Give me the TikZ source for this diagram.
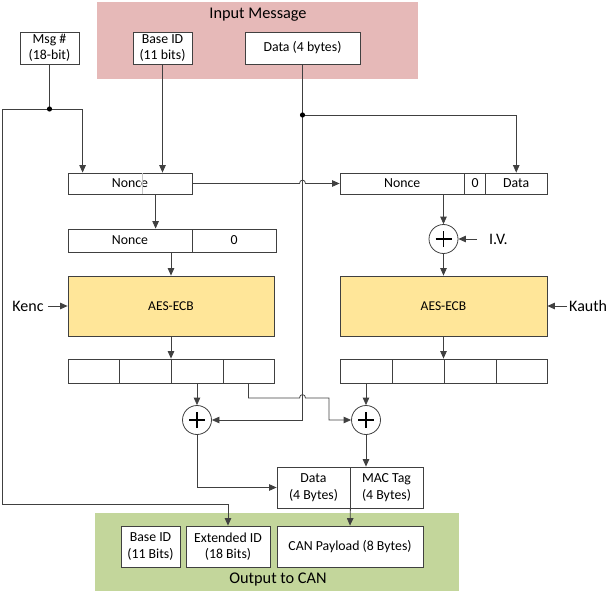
\documentclass[tikz,border=0pt]{standalone}
\usepackage{fontspec}
\setmainfont{Carlito}
\usetikzlibrary{arrows.meta}
\definecolor{ln}{HTML}{404040}
\definecolor{pinkc}{HTML}{E6B9B8}
\definecolor{greenc}{HTML}{C3D69B}
\definecolor{yellc}{HTML}{FFE699}
\begin{document}
\begin{tikzpicture}[x=1pt,y=-1pt,
  box/.style={draw=ln, line width=0.8pt, fill=white, rectangle, inner sep=0pt, align=center, font=\fontsize{13.8}{16.5}\selectfont},
  aes/.style={box, fill=yellc, font=\fontsize{13.5}{15}\selectfont},
  area/.style={rectangle, inner sep=0pt, draw=none},
  title/.style={inner sep=0pt, font=\fontsize{16.3}{19}\selectfont},
  lbl/.style={inner sep=0pt, font=\fontsize{16}{19}\selectfont},
  conn/.style={draw=ln, line width=0.8pt},
  arr/.style={conn, -{Triangle[length=7.5pt,width=6.5pt]}},
  xor/.style={circle, draw=ln, line width=0.8pt, fill=white, minimum size=29pt, inner sep=0pt,
    path picture={\draw[black, line width=1.3pt] ([xshift=-8pt]path picture bounding box.center) -- ([xshift=8pt]path picture bounding box.center)
      ([yshift=-8pt]path picture bounding box.center) -- ([yshift=8pt]path picture bounding box.center);}},
  dot/.style={fill=black}
]
\useasboundingbox (0,0) rectangle (616,599);

% background areas
\node[area, fill=pinkc, minimum width=321pt, minimum height=77pt] (inmsg) at (257.5,40.5) {};
\node[title] (intitle) at (258,15) {Input Message};
\node[area, fill=greenc, minimum width=364pt, minimum height=78pt] (outcan) at (277,552) {};
\node[title] (outtitle) at (278,580) {Output to CAN};

% input boxes
\node[box, minimum width=59pt, minimum height=32pt] (msg) at (49.5,48) {Msg \#\\(18-bit)};
\node[box, minimum width=59pt, minimum height=32pt] (bid) at (162.5,48) {Base ID\\(11 bits)};
\node[box, minimum width=115pt, minimum height=32pt] (din) at (302.5,48) {Data (4 bytes)};

% nonce rows
\node[box, minimum width=124pt, minimum height=21pt] (nL) at (130,183.5) {Nonce};
\draw[gray!45, line width=0.6pt] (142,173.5) -- (142,193.5);
\node[box, minimum width=124.5pt, minimum height=21pt] (nR1) at (402.25,183.5) {Nonce};
\node[box, minimum width=21pt, minimum height=21pt] (nR0) at (475,183.5) {0};
\node[box, minimum width=61.5pt, minimum height=21pt] (nRd) at (516.25,183.5) {Data};
\node[box, minimum width=124pt, minimum height=23pt] (nz1) at (130,240.5) {Nonce};
\node[box, minimum width=84pt, minimum height=23pt] (nz2) at (234,240.5) {0};

% AES blocks
\node[aes, minimum width=206pt, minimum height=60pt] (aesL) at (171,306) {AES-ECB};
\node[aes, minimum width=207pt, minimum height=60pt] (aesR) at (443.5,306) {AES-ECB};
\node[lbl] (kenc) at (28,306) {Kenc};
\node[lbl, anchor=west] (kauth) at (569,306) {Kauth};
\node[xor] (xorIV) at (443.5,239) {};
\node[lbl, anchor=west] (iv) at (489,239) {I.V.};

% output rows
\node[box, minimum width=51pt, minimum height=24pt] (rL1) at (93.5,371) {};
\node[box, minimum width=52pt, minimum height=24pt] (rL2) at (145,371) {};
\node[box, minimum width=52pt, minimum height=24pt] (rL3) at (197,371) {};
\node[box, minimum width=51pt, minimum height=24pt] (rL4) at (248.5,371) {};
\node[box, minimum width=52pt, minimum height=24pt] (rR1) at (366,371) {};
\node[box, minimum width=52pt, minimum height=24pt] (rR2) at (418,371) {};
\node[box, minimum width=52pt, minimum height=24pt] (rR3) at (470,371) {};
\node[box, minimum width=51pt, minimum height=24pt] (rR4) at (521.5,371) {};

\node[xor] (xorL) at (197,420) {};
\node[xor] (xorR) at (366,420) {};

\node[box, minimum width=73pt, minimum height=41pt] (dout) at (313.5,487.5) {Data\\(4 Bytes)};
\node[box, minimum width=73pt, minimum height=41pt] (mac) at (386.5,487.5) {MAC Tag\\(4 Bytes)};

\node[box, minimum width=59pt, minimum height=41pt] (cb) at (150.5,546.5) {Base ID\\(11 Bits)};
\node[box, minimum width=84pt, minimum height=41pt] (ce) at (228,546.5) {Extended ID\\(18 Bits)};
\node[box, minimum width=146pt, minimum height=41pt] (cp) at (350,546.5) {CAN Payload (8 Bytes)};

% junctions
\coordinate (jm) at (49.5,109);
\coordinate (jd) at (302.5,115);

% connectors
\draw[conn] (msg.south) -- (jm);
\draw[arr] (jm) -| ([xshift=15pt]nL.north west);
\draw[arr] (jm) -- (2,109) -- (2,504) -| (ce.north);
\draw[arr] (bid.south) -- (bid.south |- nL.north);
\draw[arr] (din.south) |- (xorL.east);
\draw[arr] (jd) -| (nRd.north);
\fill[dot] (jm) circle (2.6pt);
\fill[dot] (jd) circle (2.6pt);

\draw[arr] (nL.east) -- (299.5,183.5) .. controls (299.5,179) and (305.5,179) .. (305.5,183.5) -- (nR1.west);
\draw[arr] ([xshift=88pt]nL.south west) -- ([xshift=88pt]nz1.north west);
\draw[arr] (aesL.north |- nz1.south) -- (aesL.north);
\draw[arr] (xorIV.north |- nR1.south) -- (xorIV.north);
\draw[arr] (xorIV.south) -- (aesR.north);
\draw[arr] ([xshift=-12pt]iv.west) -- (xorIV.east);
\draw[arr] ([xshift=4pt]kenc.east) -- (aesL.west);
\draw[arr] ([xshift=-2pt]kauth.west) -- (aesR.east);
\draw[arr] (aesL.south) -- (aesL.south |- rL1.north);
\draw[arr] (aesR.south) -- (aesR.south |- rR1.north);
\draw[arr] (rL3.south) -- (xorL.north);
\draw[arr] (rL4.south) -- (248.5,398) -- (299.5,398) .. controls (299.5,393.5) and (305.5,393.5) .. (305.5,398) -- (329,398) |- (xorR.west);
\draw[arr] (rR1.south) -- (xorR.north);
\draw[arr] (xorL.south) |- (dout.west);
\draw[arr] (xorR.south) -- (xorR.south |- mac.north);
\draw[arr] (dout.south east) -- (cp.north);
\end{tikzpicture}
\end{document}
